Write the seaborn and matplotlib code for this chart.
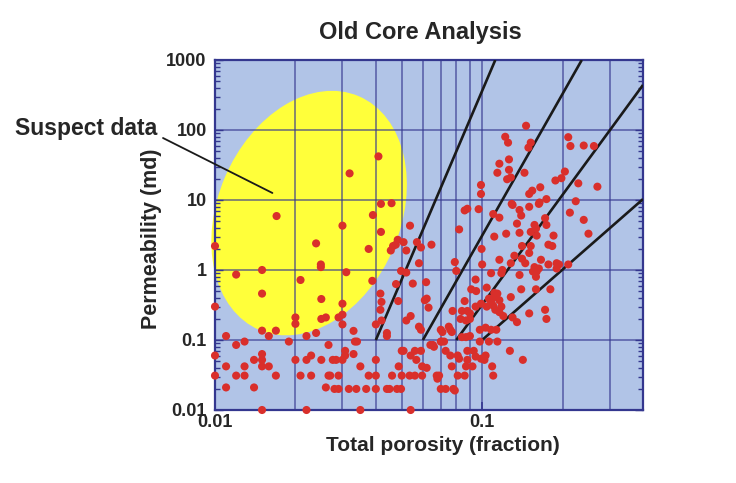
import matplotlib
matplotlib.use("Agg")
import matplotlib.pyplot as plt
import pandas as pd
import seaborn as sns
from matplotlib.patches import Ellipse
from matplotlib.transforms import ScaledTranslation
from matplotlib.ticker import FixedLocator, FixedFormatter, NullFormatter, LogLocator

# Core plug measurements: total porosity (fraction) and permeability (md)
porosity = [
    0.010, 0.0239, 0.0249, 0.0249, 0.012, 0.015, 0.0209, 0.015, 0.025, 0.010,
    0.020, 0.020, 0.025, 0.026, 0.015, 0.0169, 0.011, 0.0159, 0.022, 0.0239,
    0.0189, 0.0129, 0.012, 0.0266, 0.010, 0.015, 0.015, 0.014, 0.0229, 0.022,
    0.020, 0.025, 0.011, 0.0129, 0.015, 0.0159, 0.010, 0.012, 0.0129, 0.0169,
    0.0209, 0.0229, 0.0266, 0.011, 0.014, 0.026, 0.015, 0.022, 0.017, 0.030,
    0.031, 0.030, 0.030, 0.029, 0.030, 0.033, 0.0334, 0.034, 0.0307, 0.0307,
    0.033, 0.030, 0.0284, 0.0276, 0.035, 0.027, 0.029, 0.0376, 0.040, 0.028,
    0.029, 0.0317, 0.0338, 0.0368, 0.040, 0.035, 0.0376, 0.0388, 0.0418, 0.0416,
    0.042, 0.0416, 0.042, 0.040, 0.044, 0.044, 0.040, 0.046, 0.050, 0.044,
    0.045, 0.048, 0.0497, 0.0487, 0.050, 0.0497, 0.052, 0.0483, 0.0508, 0.0464,
    0.0455, 0.0475, 0.052, 0.057, 0.059, 0.0646, 0.058, 0.0476, 0.055, 0.0617,
    0.0485, 0.061, 0.062, 0.063, 0.054, 0.052, 0.058, 0.059, 0.0508, 0.054,
    0.056, 0.059, 0.0567, 0.0654, 0.064, 0.0705, 0.0596, 0.0535, 0.056, 0.0596,
    0.0676, 0.070, 0.054, 0.0409, 0.0319, 0.0418, 0.0458, 0.039, 0.0537,
    0.0995, 0.079, 0.080, 0.100, 0.116, 0.108, 0.0945, 0.091, 0.095, 0.104,
    0.086, 0.0775, 0.084, 0.088, 0.090, 0.083, 0.087, 0.090, 0.0945, 0.099,
    0.104, 0.108, 0.110, 0.111, 0.114, 0.106, 0.111, 0.112, 0.116, 0.120,
    0.118, 0.116, 0.128, 0.130, 0.135, 0.150, 0.172, 0.174, 0.140, 0.159,
    0.180, 0.070, 0.075, 0.076, 0.084, 0.087, 0.090, 0.098, 0.103, 0.108,
    0.113, 0.070, 0.072, 0.098, 0.106, 0.114, 0.073, 0.076, 0.081, 0.082,
    0.088, 0.093, 0.0945, 0.099, 0.103, 0.102, 0.088, 0.087, 0.092, 0.127,
    0.142, 0.077, 0.109, 0.081, 0.086, 0.110, 0.073, 0.078, 0.069, 0.066,
    0.071, 0.077, 0.062, 0.068, 0.079, 0.111, 0.123, 0.138, 0.152, 0.160,
    0.185, 0.141, 0.152, 0.150, 0.177, 0.183, 0.132, 0.141, 0.145, 0.128,
    0.119, 0.118, 0.138, 0.157, 0.160, 0.159, 0.163, 0.155, 0.166, 0.177,
    0.190, 0.146, 0.122, 0.125, 0.152, 0.149, 0.126, 0.116, 0.126, 0.114,
    0.144, 0.124, 0.128, 0.099, 0.099, 0.165, 0.154, 0.150, 0.188, 0.086,
    0.088, 0.097, 0.129, 0.130, 0.150, 0.164, 0.163, 0.174, 0.110, 0.116,
    0.138, 0.140, 0.135, 0.082, 0.157, 0.159, 0.172, 0.174, 0.210, 0.214,
    0.240, 0.262, 0.204, 0.198, 0.229, 0.270, 0.224, 0.213, 0.240, 0.250,
    0.194, 0.210, 0.190,
]
permeability = [
    2.2, 2.4, 1.2, 1.1, 0.86, 1.0, 0.72, 0.46, 0.385, 0.30,
    0.21, 0.17, 0.20, 0.21, 0.136, 0.136, 0.114, 0.114, 0.114, 0.126,
    0.095, 0.095, 0.085, 0.085, 0.060, 0.063, 0.052, 0.052, 0.060, 0.052,
    0.052, 0.052, 0.042, 0.042, 0.042, 0.042, 0.031, 0.031, 0.031, 0.031,
    0.031, 0.031, 0.031, 0.021, 0.021, 0.021, 0.010, 0.010, 5.9, 4.3,
    0.93, 0.33, 0.23, 0.21, 0.167, 0.135, 0.095, 0.095, 0.070, 0.060,
    0.063, 0.052, 0.052, 0.052, 0.042, 0.031, 0.031, 0.031, 0.031, 0.020,
    0.020, 0.020, 0.020, 0.020, 0.020, 0.010, 2.0, 0.70, 3.5, 0.46,
    0.35, 0.27, 0.19, 0.167, 0.126, 0.114, 0.052, 0.031, 0.031, 0.020,
    0.020, 0.020, 0.020, 0.042, 0.070, 0.97, 0.92, 2.7, 2.5, 2.2,
    1.9, 2.3, 1.9, 2.5, 2.1, 2.3, 1.25, 0.63, 0.64, 0.67,
    0.36, 0.37, 0.39, 0.29, 0.22, 0.19, 0.155, 0.14, 0.070, 0.060,
    0.070, 0.070, 0.052, 0.085, 0.085, 0.095, 0.042, 0.031, 0.031, 0.031,
    0.031, 0.020, 0.010, 42.0, 24.0, 8.8, 9.0, 6.1, 4.3,
    2.0, 1.3, 0.97, 1.2, 1.4, 0.9, 0.73, 0.53, 0.50, 0.56,
    0.36, 0.26, 0.26, 0.26, 0.24, 0.20, 0.19, 0.20, 0.30, 0.33,
    0.30, 0.35, 0.31, 0.47, 0.46, 0.39, 0.41, 0.27, 0.25, 0.22,
    0.30, 0.37, 0.41, 0.21, 0.18, 0.24, 0.27, 0.20, 0.53, 0.53,
    0.53, 0.14, 0.155, 0.14, 0.11, 0.11, 0.114, 0.14, 0.15, 0.14,
    0.14, 0.095, 0.095, 0.095, 0.095, 0.095, 0.070, 0.060, 0.060, 0.054,
    0.070, 0.070, 0.058, 0.054, 0.060, 0.052, 0.052, 0.042, 0.042, 0.070,
    0.052, 0.042, 0.042, 0.031, 0.031, 0.031, 0.020, 0.020, 0.031, 0.080,
    0.13, 0.13, 0.040, 0.028, 0.019, 3.0, 3.3, 3.4, 3.5, 3.1,
    3.1, 2.2, 2.2, 1.75, 2.3, 2.2, 1.6, 1.45, 1.25, 1.25,
    1.0, 0.9, 0.85, 1.1, 0.95, 0.80, 1.05, 0.95, 1.4, 1.2,
    1.25, 115.0, 80.0, 66.0, 66.0, 56.0, 38.0, 33.0, 27.0, 24.5,
    24.5, 19.8, 21.0, 16.4, 12.2, 15.2, 13.6, 12.2, 19.0, 7.1,
    7.5, 7.4, 8.8, 8.5, 8.0, 9.2, 8.8, 10.3, 6.3, 5.6,
    7.2, 6.0, 4.6, 3.8, 4.4, 3.9, 5.5, 4.4, 79.0, 59.0,
    60.0, 59.0, 25.5, 20.5, 17.3, 15.5, 9.6, 6.6, 5.2, 3.3,
    1.2, 1.2, 1.05,
]

# Straight-line trends in log-log space (start and end of each line)
trend_phi_start = [0.04, 0.06, 0.08, 0.10]
trend_k_start = [0.1, 0.1, 0.1, 0.1]
trend_phi_end = [0.112, 0.236, 0.40, 0.40]
trend_k_end = [1000.0, 1000.0, 440.0, 10.3]

# Axis ticks
x_tick_values = [0.01, 0.1]
x_tick_labels = ["0.01", "0.1"]
x_minor_values = [0.02, 0.03, 0.04, 0.05, 0.06, 0.07, 0.08, 0.09, 0.2, 0.3]
y_tick_values = [0.01, 0.1, 1, 10, 100, 1000]
y_tick_labels = ["0.01", "0.1", "1", "10", "100", "1000"]

# Highlighted region of questionable measurements
suspect_center = (0.0225, 6.5)
suspect_pointer = (0.0164, 12.6)

NAVY = "#34378f"
PANEL = "#b1c4e7"
YELLOW = "#ffff3a"
RED = "#d92f2b"
BLACK = "#1a1a1a"

sns.set_style("ticks")
plt.rcParams["font.family"] = ["Liberation Sans", "DejaVu Sans"]

df = pd.DataFrame({"porosity": porosity, "permeability": permeability})

fig = plt.figure(figsize=(7.36, 4.83), dpi=100)
ax = fig.add_axes([215 / 736, 73 / 483, 428 / 736, 350 / 483])
ax.set_facecolor(PANEL)
ax.set_xscale("log")
ax.set_yscale("log")
ax.set_xlim(0.01, 0.4)
ax.set_ylim(0.01, 1000)
ax.set_axisbelow("line")

# Yellow ellipse around the suspect low-porosity data
blob = Ellipse((0, 0), width=1.83, height=2.54, angle=-23,
               transform=fig.dpi_scale_trans
               + ScaledTranslation(suspect_center[0], suspect_center[1], ax.transData),
               facecolor=YELLOW, edgecolor="none", clip_on=False, zorder=1)
ax.add_patch(blob)

# Ticks and grid
ax.xaxis.set_major_locator(FixedLocator(x_tick_values))
ax.xaxis.set_major_formatter(FixedFormatter(x_tick_labels))
ax.xaxis.set_minor_locator(FixedLocator(x_minor_values))
ax.xaxis.set_minor_formatter(NullFormatter())
ax.yaxis.set_major_locator(FixedLocator(y_tick_values))
ax.yaxis.set_major_formatter(FixedFormatter(y_tick_labels))
ax.yaxis.set_minor_locator(LogLocator(base=10, subs=range(2, 10)))
ax.yaxis.set_minor_formatter(NullFormatter())

ax.grid(axis="x", which="both", color=NAVY, lw=1.1, alpha=0.75)
ax.grid(axis="y", which="major", color=NAVY, lw=1.1, alpha=0.75)
ax.grid(axis="y", which="minor", visible=False)

ax.tick_params(axis="y", which="both", direction="in", left=True, right=True,
               color=NAVY, width=1.0)
ax.tick_params(axis="y", which="major", length=6, pad=6)
ax.tick_params(axis="y", which="minor", length=3.5)
ax.tick_params(axis="x", which="major", direction="in", length=6, width=1.2,
               color=NAVY, pad=3)
ax.tick_params(axis="x", which="minor", length=0)
for lab in ax.get_xticklabels() + ax.get_yticklabels():
    lab.set_fontsize(13)
    lab.set_fontweight("bold")

for side in ["left", "right", "top", "bottom"]:
    ax.spines[side].set_color(NAVY)
    ax.spines[side].set_linewidth(1.6)
    ax.spines[side].set_visible(True)

# Trend lines
for x0, y0, x1, y1 in zip(trend_phi_start, trend_k_start, trend_phi_end, trend_k_end):
    ax.plot([x0, x1], [y0, y1], color=BLACK, lw=1.9, zorder=3, solid_capstyle="butt")

# Measurements (points on the frame are drawn whole)
sns.scatterplot(data=df, x="porosity", y="permeability", ax=ax, color=RED,
                s=34, edgecolor="none", linewidth=0, zorder=4, legend=False,
                clip_on=False)

ax.set_xlabel("Total porosity (fraction)", fontsize=15, fontweight="bold")
ax.set_ylabel("Permeability (md)", fontsize=15.5, fontweight="bold")
ax.xaxis.set_label_coords(0.533, -0.075)
ax.yaxis.set_label_coords(-0.125, 0.49)

fig.text(0.571, 1 - 33 / 483, "Old Core Analysis", ha="center", va="center",
         fontsize=17, fontweight="bold")

fig.text(15 / 736, 1 - 128 / 483, "Suspect data", ha="left", va="center",
         fontsize=16.5, fontweight="bold")
ax.annotate("", xy=suspect_pointer, xycoords="data",
            xytext=(163 / 736, 1 - 138 / 483), textcoords="figure fraction",
            arrowprops=dict(arrowstyle="-", color=BLACK, lw=1.3, shrinkA=0, shrinkB=0),
            annotation_clip=False)

fig.savefig("out.png", dpi=100, facecolor="white")
